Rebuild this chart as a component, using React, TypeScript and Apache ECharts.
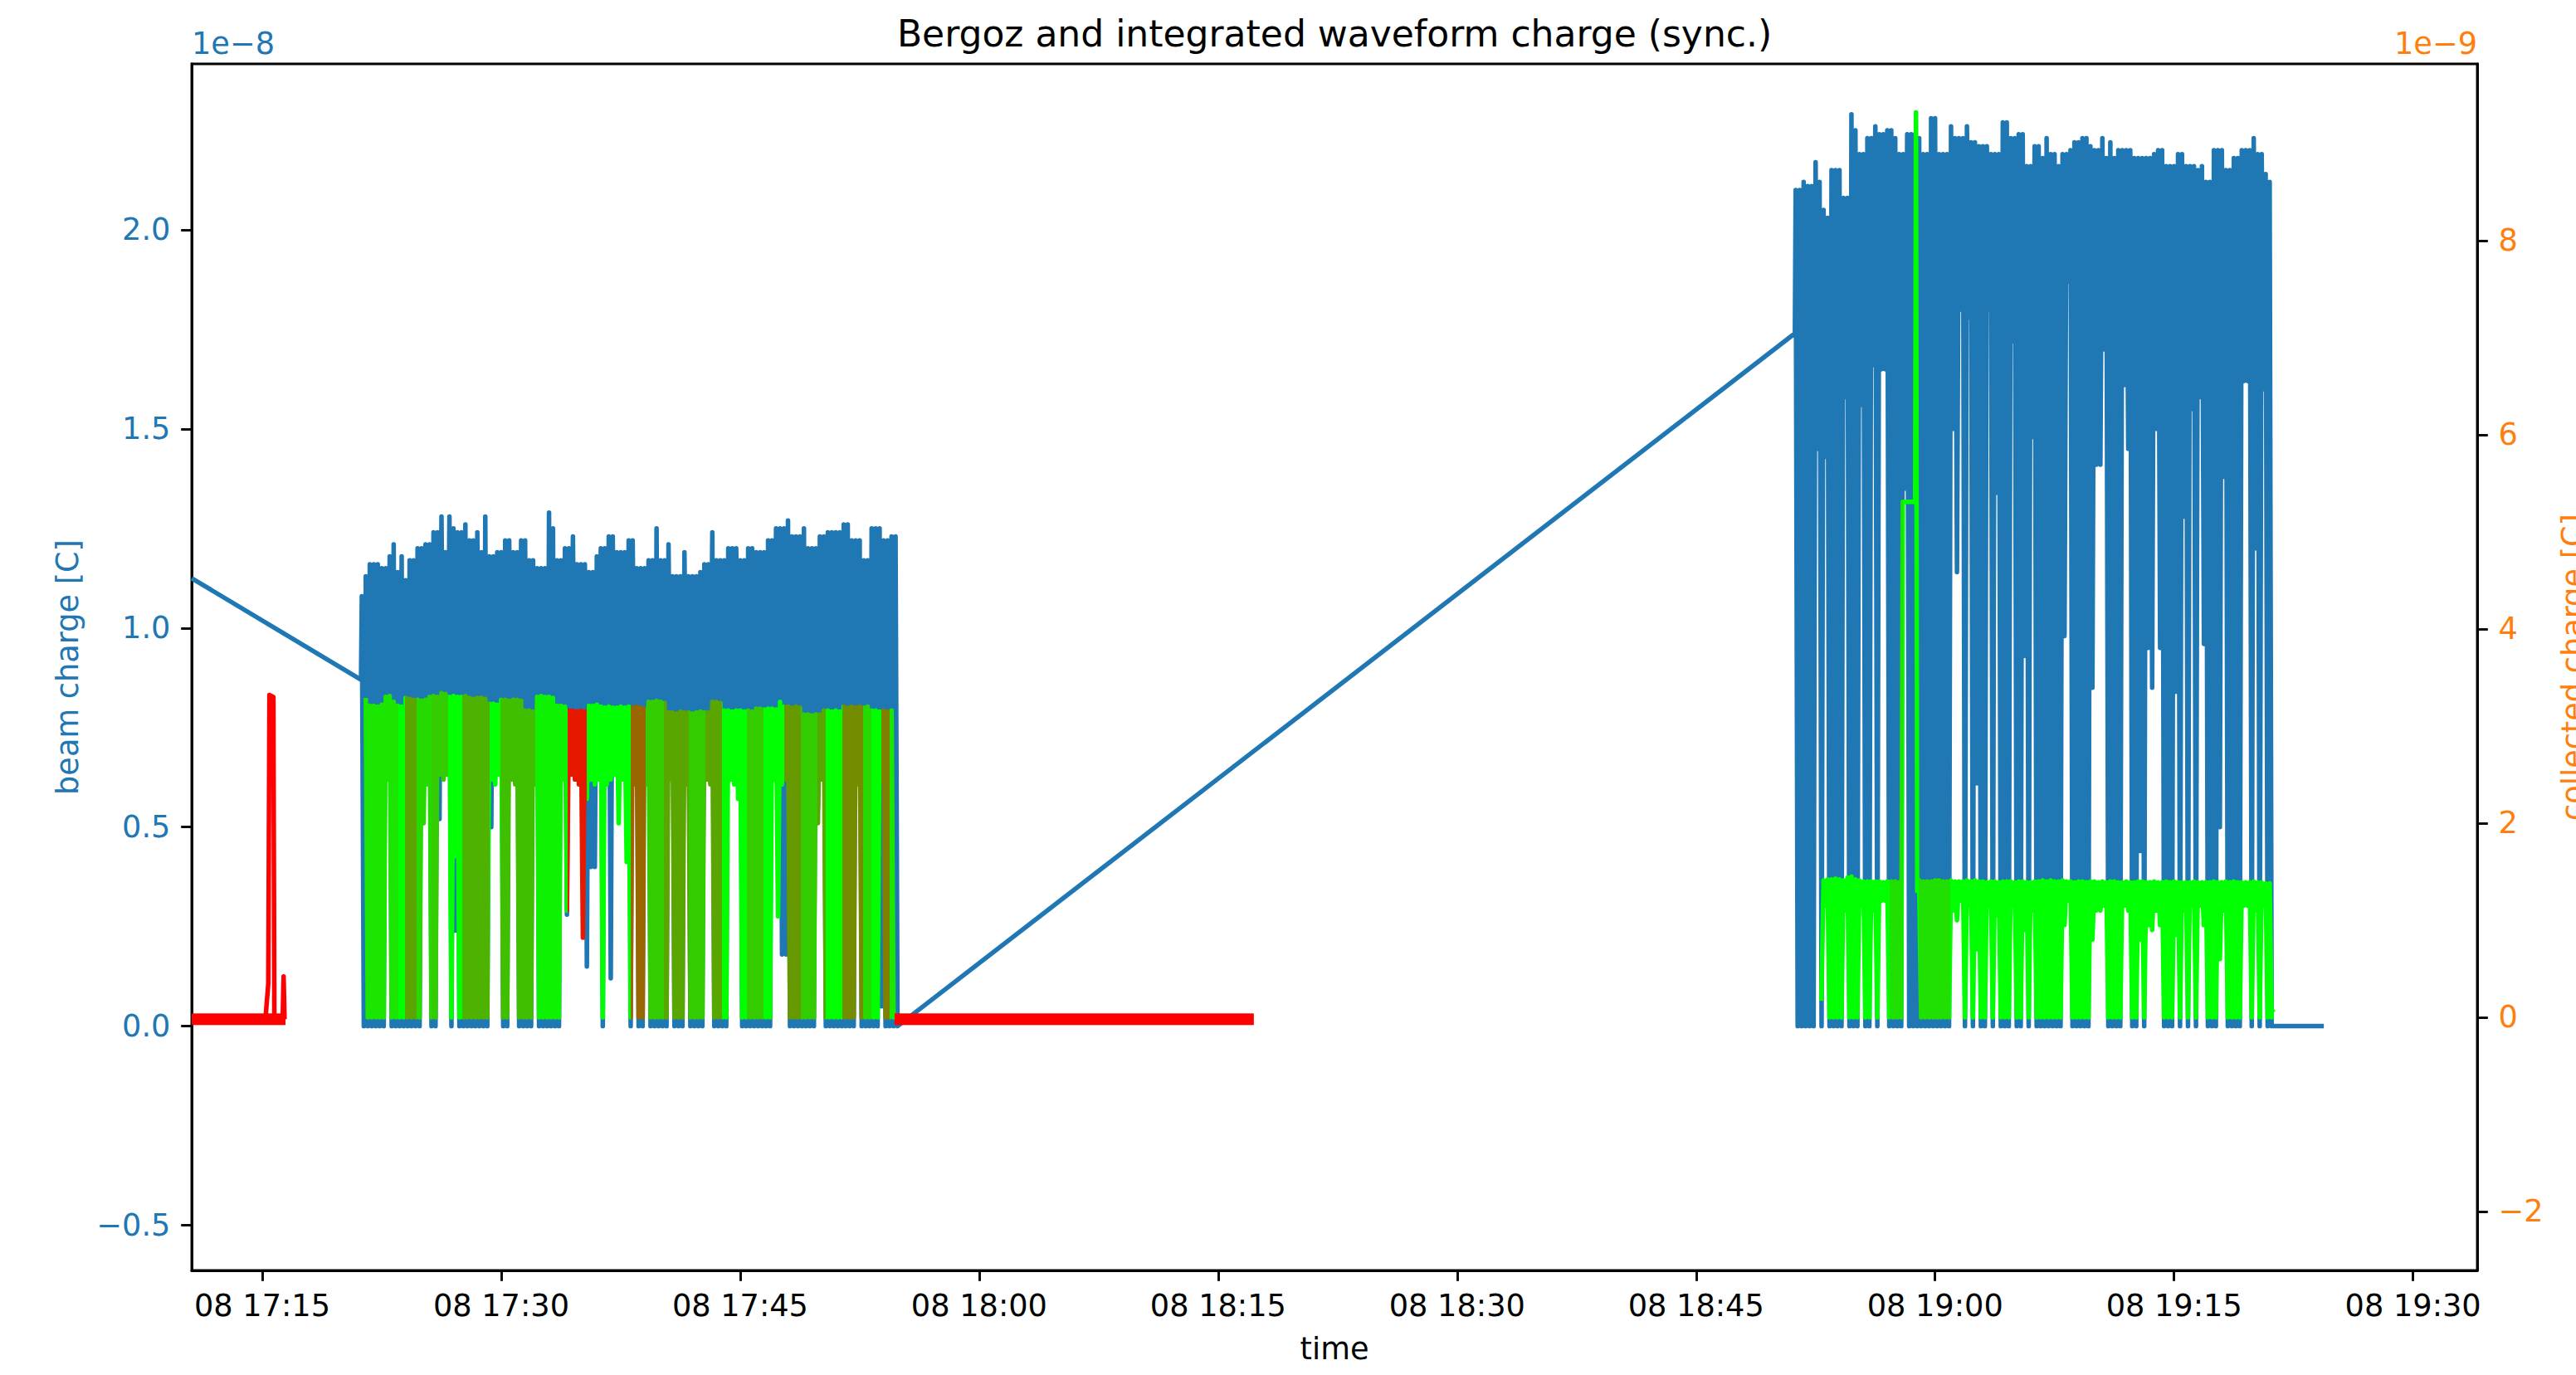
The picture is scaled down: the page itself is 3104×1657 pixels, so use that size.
import React, { useEffect, useRef } from "react";
import * as echarts from "echarts";

// ---------- axes (x in minutes after 08 17:00; left in 1e-8 C; right in 1e-9 C) ----------
const xMin = 10.572;
const xMax = 154.03;
const xTickMinutes = [15, 30, 45, 60, 75, 90, 105, 120, 135, 150];
const leftMin = -0.6135;
const leftMax = 2.4167;
const leftTicks = [-0.5, 0, 0.5, 1.0, 1.5, 2.0];
const rightMin = -2.607;
const rightMax = 9.82;
const rightTicks = [-2, 0, 2, 4, 6, 8];

// ---------- beam charge (Bergoz) ----------
const beamLeadT = [10.572, 21.2];
const beamLeadV = [1.125, 0.87];

const burst1Start = 21.25;
const burst2Start = 111.25;
const stepMin = 0.25;

const beam1Hi = [
  1.08, 1.13, 1.16, 1.16, 1.16, 1.15, 1.15, 1.18, 1.21, 1.14,
  1.18, 1.12, 1.17, 1.17, 1.2, 1.2, 1.21, 1.21, 1.24, 1.24,
  1.28, 1.19, 1.28, 1.25, 1.24, 1.24, 1.26, 1.22, 1.22, 1.24,
  1.19, 1.28, 1.18, 1.18, 1.19, 1.19, 1.22, 1.22, 1.19, 1.19,
  1.22, 1.22, 1.17, 1.17, 1.15, 1.15, 1.15, 1.29, 1.25, 1.17,
  1.17, 1.2, 1.2, 1.23, 1.16, 1.16, 1.16, 1.14, 1.14, 1.18,
  1.2, 1.2, 1.23, 1.23, 1.19, 1.19, 1.19, 1.22, 1.22, 1.15,
  1.15, 1.15, 1.17, 1.17, 1.25, 1.17, 1.17, 1.21, 1.13, 1.13,
  1.13, 1.19, 1.13, 1.13, 1.13, 1.14, 1.16, 1.16, 1.24, 1.17,
  1.17, 1.17, 1.2, 1.2, 1.2, 1.17, 1.17, 1.2, 1.2, 1.19,
  1.19, 1.19, 1.22, 1.22, 1.25, 1.25, 1.25, 1.27, 1.23, 1.23,
  1.23, 1.25, 1.2, 1.2, 1.2, 1.23, 1.23, 1.24, 1.24, 1.24,
  1.24, 1.26, 1.26, 1.22, 1.22, 1.22, 1.17, 1.17, 1.25, 1.25,
  1.25, 1.22, 1.22, 1.23, 1.23,
];
const beam1Lo = [
  0, 0, 0, 0, 0, 0, 0.72, 0, 0, 0,
  0, 0, 0, 0, 0, 0.7, 0.74, 0, 0, 0.52,
  0.72, 0.7, 0, 0.24, 0, 0, 0, 0, 0, 0,
  0, 0, 0.5, 0.74, 0.7, 0, 0, 0.72, 0.7, 0,
  0, 0, 0, 0.72, 0, 0, 0, 0, 0, 0,
  0.72, 0.28, 0.7, 0.74, 0.72, 0.7, 0.15, 0.4, 0.4, 0.72,
  0, 0.7, 0.12, 0.74, 0.72, 0.7, 0.5, 0, 0.72, 0,
  0, 0.72, 0, 0, 0, 0, 0, 0.7, 0, 0,
  0, 0.72, 0, 0, 0, 0, 0.74, 0.7, 0, 0,
  0, 0, 0.72, 0.7, 0.72, 0, 0, 0, 0, 0,
  0, 0, 0, 0.72, 0.7, 0.18, 0.18, 0, 0, 0,
  0, 0, 0, 0, 0.55, 0.72, 0, 0, 0, 0,
  0, 0, 0, 0, 0.72, 0, 0, 0, 0, 0,
  0.05, 0, 0, 0, 0,
];

const beamGapT = [111.2];
const beamGapV = [1.74];

const beam2Hi = [
  2.1, 2.1, 2.12, 2.11, 2.11, 2.17, 2.12, 2.05, 2.03, 2.15,
  2.15, 2.15, 2.08, 2.08, 2.29, 2.25, 2.19, 2.19, 2.23, 2.23,
  2.26, 2.24, 2.24, 2.25, 2.25, 2.23, 2.19, 2.19, 2.24, 2.24,
  2.24, 2.23, 2.19, 2.19, 2.28, 2.28, 2.19, 2.19, 2.19, 2.26,
  2.23, 2.23, 2.23, 2.26, 2.22, 2.22, 2.21, 2.21, 2.21, 2.19,
  2.19, 2.19, 2.27, 2.27, 2.23, 2.23, 2.24, 2.24, 2.16, 2.16,
  2.21, 2.21, 2.18, 2.23, 2.19, 2.19, 2.16, 2.19, 2.19, 2.2,
  2.22, 2.22, 2.23, 2.23, 2.21, 2.2, 2.2, 2.23, 2.18, 2.22,
  2.18, 2.2, 2.2, 2.2, 2.2, 2.18, 2.18, 2.18, 2.18, 2.18,
  2.19, 2.2, 2.2, 2.16, 2.16, 2.16, 2.19, 2.19, 2.16, 2.16,
  2.16, 2.15, 2.16, 2.12, 2.12, 2.2, 2.2, 2.2, 2.15, 2.15,
  2.18, 2.18, 2.2, 2.2, 2.2, 2.23, 2.19, 2.19, 2.14, 2.12,
];
const beam2Lo = [
  0, 0, 0, 0, 0, 1.45, 0, 1.43, 0, 0,
  0, 0, 1.58, 0, 0, 0, 1.56, 0, 0, 1.66,
  0, 1.65, 1.65, 0, 0, 0, 0, 1.35, 0, 0,
  0, 0, 0, 0, 0, 0, 0, 0, 0, 1.5,
  1.14, 1.8, 0, 1.78, 0, 0.61, 0, 0, 1.8, 0,
  1.34, 0, 0, 0, 1.72, 0, 0, 0.93, 0, 1.48,
  0, 0, 0, 0, 0, 0, 0, 0.98, 1.87, 0,
  0, 0, 0, 0, 0.85, 1.41, 1.41, 1.7, 0, 0,
  0, 0, 1.61, 1.45, 0, 0, 0.44, 0, 0.95, 0.85,
  1.5, 0.95, 0, 0, 0, 0.84, 0, 1.28, 0, 1.55,
  0, 1.58, 0.96, 0, 0, 0, 0.5, 1.38, 0, 0,
  0, 0, 1.62, 1.62, 0, 1.2, 0, 1.6, 0, 0,
];
const beamTailT = [144.4];
const beamTailV = [0];

// ---------- collected charge (integrated waveform) ----------
const coll1Hi = [
  3.29, 3.29, 3.21, 3.21, 3.2, 3.22, 3.3, 3.31, 3.25, 3.21,
  3.2, 3.29, 3.28, 3.27, 3.27, 3.26, 3.27, 3.3, 3.31, 3.3,
  3.34, 3.33, 3.3, 3.31, 3.3, 3.3, 3.31, 3.29, 3.28, 3.29,
  3.29, 3.28, 3.23, 3.23, 3.22, 3.27, 3.27, 3.26, 3.27, 3.27,
  3.26, 3.16, 3.16, 3.15, 3.3, 3.31, 3.3, 3.3, 3.29, 3.21,
  3.21, 3.2, 3.16, 3.16, 3.15, 3.16, 3.15, 3.21, 3.21, 3.22,
  3.2, 3.19, 3.2, 3.19, 3.19, 3.2, 3.19, 3.2, 3.19, 3.2,
  3.19, 3.18, 3.25, 3.25, 3.26, 3.25, 3.24, 3.14, 3.14, 3.13,
  3.15, 3.14, 3.14, 3.13, 3.14, 3.15, 3.14, 3.14, 3.25, 3.25,
  3.24, 3.16, 3.16, 3.15, 3.16, 3.16, 3.15, 3.16, 3.15, 3.18,
  3.18, 3.17, 3.18, 3.18, 3.17, 3.25, 3.2, 3.2, 3.19, 3.2,
  3.19, 3.12, 3.12, 3.11, 3.12, 3.12, 3.16, 3.16, 3.15, 3.16,
  3.15, 3.2, 3.19, 3.2, 3.19, 3.2, 3.19, 3.2, 3.16, 3.16,
  3.15, 3.16, 3.15, 3.16, 3.1,
];
const coll1Lo = [
  0, 0, 0, 0, 0, 0, 2.45, 0, 0, 0,
  0, 0, 0, 0, 0, 2.0, 2.4, 0, 0, 2.5,
  2.45, 2.5, 0, 1.66, 0, 0, 0, 0, 0, 0,
  0, 0, 2.45, 2.4, 2.5, 0, 0, 2.45, 2.4, 0,
  0, 0, 0, 2.4, 0, 0, 0, 0, 0, 0,
  2.45, 1.1, 2.5, 2.45, 2.4, 0.82, 2.25, 2.45, 2.4, 2.45,
  0, 2.4, 2.45, 2.5, 2.0, 2.45, 1.6, 0, 2.4, 0,
  0, 2.4, 0, 0, 0, 0, 0, 2.45, 0, 0,
  0, 2.4, 0, 0, 0, 0, 2.45, 2.4, 0, 0,
  0, 0, 2.45, 2.4, 2.25, 0, 0, 0, 0, 0,
  0, 0, 0, 2.45, 1.04, 2.4, 2.45, 0, 0, 0,
  0, 0, 0, 0, 2.0, 2.45, 0, 0, 0, 0,
  0, 0, 0, 0, 2.4, 0, 0, 0, 0, 0,
  2.45, 0, 0, 0, 0,
];
const coll1EndT = [54.69];
const coll1EndV = [0];

const coll2HeadT = [112.86];
const coll2HeadV = [0.17];
const coll2Hi = [
  1.38, 1.38, 1.38, 1.38, 1.38, 1.38, 1.38, 1.41, 1.42, 1.42,
  1.43, 1.42, 1.41, 1.44, 1.45, 1.42, 1.41, 1.4, 1.4, 1.4,
  1.4, 1.4, 1.39, 1.4, 1.4, 1.4, 1.39, 1.4, 1.4, 1.4,
  1.4, 1.41, 1.4, 1.4, 1.4, 1.41, 1.41, 1.4, 1.4, 1.41,
  1.4, 1.4, 1.4, 1.41, 1.4, 1.41, 1.4, 1.4, 1.39, 1.4,
  1.4, 1.39, 1.4, 1.4, 1.4, 1.39, 1.4, 1.4, 1.39, 1.39,
  1.4, 1.4, 1.41, 1.4, 1.41, 1.4, 1.4, 1.41, 1.4, 1.4,
  1.39, 1.4, 1.4, 1.39, 1.4, 1.4, 1.39, 1.4, 1.39, 1.4,
  1.4, 1.39, 1.39, 1.4, 1.39, 1.39, 1.4, 1.4, 1.39, 1.39,
  1.4, 1.39, 1.39, 1.4, 1.39, 1.4, 1.39, 1.39, 1.39, 1.39,
  1.4, 1.39, 1.39, 1.39, 1.39, 1.4, 1.39, 1.39, 1.4, 1.39,
  1.4, 1.39, 1.39, 1.39, 1.39, 1.4, 1.39, 1.39, 1.38, 1.38,
];
const coll2Lo = [
  0, 0, 0, 0, 0, 0, 0, 1.15, 0, 0,
  0, 0, 1.1, 0, 0, 0, 1.15, 0, 0, 1.1,
  0, 1.2, 1.2, 0, 0, 0, 0, 1.2, 0, 0,
  0, 0, 0, 0, 0, 0, 0, 0, 0, 1.1,
  1.0, 1.2, 0, 1.15, 0, 0.7, 0, 0, 1.15, 0,
  1.05, 0, 0, 0, 1.15, 0, 0, 0.9, 0, 1.1,
  0, 0, 0, 0, 0, 0, 0, 0.95, 1.2, 0,
  0, 0, 0, 0, 0.8, 1.1, 1.1, 1.15, 0, 0,
  0, 0, 1.15, 1.1, 0, 0, 0.8, 0, 0.95, 0.9,
  1.1, 0.95, 0, 0, 0, 0.85, 0, 1.1, 0, 1.15,
  0, 1.15, 0.95, 0, 0, 0, 0.6, 1.1, 0, 0,
  0, 0, 1.15, 1.15, 0, 1.1, 0, 1.15, 0, 0,
];
const coll2StepT = [117.97, 118.75, 118.8, 118.88];
const coll2StepV = [5.31, 5.31, 9.32, 1.3];
const coll2TailT = [141.12, 141.25];
const coll2TailV = [0.08, 0.05];

// colour of the collected-charge trace: start time of each section and its level (0 = green, 1 = red)
const qualityT = [
  21.25, 23.54, 23.96, 24.69, 25.63, 26.67, 27.55, 29.27, 29.95, 32.14,
  34.17, 35.36, 38.13, 39.06, 40.21, 41.77, 42.81, 43.85, 45.42, 46.46,
  47.76, 48.8, 49.84, 50.36, 51.41, 52.71, 53.23, 53.85, 54.4, 55,
  117.14, 117.97, 118.96, 120.94,
];
const qualityLevel = [
  0.1, 0, 0.35, 0.15, 0.2, 0, 0.3, 0, 0.25, 0.05,
  0.9, 0, 0.6, 0.2, 0.35, 0.2, 0.35, 0, 0.2, 0,
  0.4, 0.2, 0.35, 0, 0.45, 0.15, 0, 0.5, 0.1, 0,
  0.12, 0, 0.12, 0,
];

// no-beam baseline (red) and its spikes
const red1T = [10.572, 16.46];
const red1V = [-0.02, -0.02];
const red2T = [54.69, 77.24];
const red2V = [-0.02, -0.02];
const redSpikeT = [15.2, 15.38, 15.45, 15.7, 15.76, 16.28, 16.34, 16.4];
const redSpikeV = [-0.02, 0.35, 3.32, 3.3, -0.02, -0.02, 0.42, -0.02];

// ---------- helpers ----------
const FONT = "'DejaVu Sans', 'Liberation Sans', sans-serif";
const BLUE = "#1f77b4";
const ORANGE = "#ff7f0e";
const minus = (s: string) => s.replace("-", "\u2212");

function pairs(ts: number[], vs: number[]) {
  return ts.map((t, i) => [t, vs[i]]);
}
function zigzag(t0: number, hi: number[], lo: number[], from: number, to: number) {
  const out: number[][] = [];
  for (let i = from; i <= to; i++) {
    const t = t0 + i * stepMin;
    out.push([t, hi[i]]);
    out.push([t + stepMin / 2, lo[i]]);
  }
  return out;
}
function qColor(q: number) {
  const r = Math.round(255 * q);
  const g = Math.round(255 * (1 - q));
  return `rgb(${r},${g},0)`;
}

const beamData = [
  ...pairs(beamLeadT, beamLeadV),
  ...zigzag(burst1Start, beam1Hi, beam1Lo, 0, beam1Hi.length - 1),
  ...pairs(beamGapT, beamGapV),
  ...zigzag(burst2Start, beam2Hi, beam2Lo, 0, beam2Hi.length - 1),
  ...pairs(beamTailT, beamTailV),
];

const collData: any[] = [
  ...zigzag(burst1Start, coll1Hi, coll1Lo, 1, 133),
  ...pairs(coll1EndT, coll1EndV),
  [90, null],
  ...pairs(coll2HeadT, coll2HeadV),
  ...zigzag(burst2Start, coll2Hi, coll2Lo, 7, 26),
  ...pairs(coll2StepT, coll2StepV),
  ...zigzag(burst2Start, coll2Hi, coll2Lo, 31, coll2Hi.length - 1),
  ...pairs(coll2TailT, coll2TailV),
];

const redBaseData: any[] = [...pairs(red1T, red1V), [30, null], ...pairs(red2T, red2V)];
const redSpikeData = pairs(redSpikeT, redSpikeV);

const pieces = qualityT.map((t, k) => ({
  gte: t,
  lt: k + 1 < qualityT.length ? qualityT[k + 1] : 1000,
  color: qColor(qualityLevel[k]),
}));

const fmtTime = (v: number) => {
  const h = 17 + Math.floor(v / 60);
  const m = Math.round(v - Math.floor(v / 60) * 60);
  return `08 ${h}:${String(m).padStart(2, "0")}`;
};

const GRID = { left: 231, top: 77, width: 2754, height: 1454 };
const LW = 5.5;

const option: any = {
  animation: false,
  textStyle: { fontFamily: FONT },
  grid: { ...GRID, show: true, borderColor: "#000", borderWidth: 2.9, backgroundColor: "transparent" },
  xAxis: {
    type: "value",
    min: xMin,
    max: xMax,
    axisLine: { show: true, onZero: false, lineStyle: { color: "#000", width: 2.9 } },
    axisTick: { show: true, length: 12.8, customValues: xTickMinutes, lineStyle: { color: "#000", width: 2.9 } },
    axisLabel: {
      customValues: xTickMinutes,
      formatter: (v: number) => fmtTime(v),
      color: "#000",
      fontSize: 36.7,
      fontFamily: FONT,
      margin: 24,
    },
    splitLine: { show: false },
  },
  yAxis: [
    {
      type: "value",
      position: "left",
      min: leftMin,
      max: leftMax,
      axisLine: { show: true, onZero: false, lineStyle: { color: "#000", width: 2.9 } },
      axisTick: { show: true, length: 12.8, customValues: leftTicks, lineStyle: { color: "#000", width: 2.9 } },
      axisLabel: {
        customValues: leftTicks,
        formatter: (v: number) => minus(v.toFixed(1)),
        color: BLUE,
        fontSize: 36.7,
        fontFamily: FONT,
        margin: 25.6,
      },
      splitLine: { show: false },
    },
    {
      type: "value",
      position: "right",
      min: rightMin,
      max: rightMax,
      axisLine: { show: true, onZero: false, lineStyle: { color: "#000", width: 2.9 } },
      axisTick: { show: true, length: 12.8, customValues: rightTicks, lineStyle: { color: "#000", width: 2.9 } },
      axisLabel: {
        customValues: rightTicks,
        formatter: (v: number) => minus(String(Math.round(v))),
        color: ORANGE,
        fontSize: 36.7,
        fontFamily: FONT,
        margin: 25.6,
      },
      splitLine: { show: false },
    },
  ],
  visualMap: [
    {
      type: "piecewise",
      show: false,
      dimension: 0,
      seriesIndex: 1,
      pieces,
      outOfRange: { color: "#00ff00" },
    },
  ],
  series: [
    {
      name: "beam charge",
      type: "line",
      yAxisIndex: 0,
      data: beamData,
      showSymbol: false,
      symbol: "none",
      silent: true,
      lineStyle: { color: BLUE, width: LW, join: "round" },
      itemStyle: { color: BLUE },
      z: 2,
    },
    {
      name: "collected charge",
      type: "line",
      yAxisIndex: 1,
      data: collData,
      showSymbol: false,
      symbol: "none",
      silent: true,
      connectNulls: false,
      lineStyle: { width: LW, join: "round" },
      z: 3,
    },
    {
      name: "collected charge (no beam)",
      type: "line",
      yAxisIndex: 1,
      data: redBaseData,
      showSymbol: false,
      symbol: "none",
      silent: true,
      connectNulls: false,
      lineStyle: { color: "#ff0000", width: 14 },
      itemStyle: { color: "#ff0000" },
      z: 4,
    },
    {
      name: "collected charge spikes",
      type: "line",
      yAxisIndex: 1,
      data: redSpikeData,
      showSymbol: false,
      symbol: "none",
      silent: true,
      lineStyle: { color: "#ff0000", width: LW, join: "round" },
      itemStyle: { color: "#ff0000" },
      z: 4,
    },
  ],
  graphic: [
    {
      type: "text",
      x: GRID.left + GRID.width / 2,
      y: 40,
      style: {
        text: "Bergoz and integrated waveform charge (sync.)",
        fill: "#000",
        fontSize: 44,
        fontFamily: FONT,
        textAlign: "center",
        textVerticalAlign: "middle",
        align: "center",
        verticalAlign: "middle",
      },
    },
    {
      type: "text",
      x: GRID.left,
      y: 52,
      style: {
        text: "1e\u22128",
        fill: BLUE,
        fontSize: 36.7,
        fontFamily: FONT,
        textAlign: "left",
        textVerticalAlign: "middle",
        align: "left",
        verticalAlign: "middle",
      },
    },
    {
      type: "text",
      x: GRID.left + GRID.width,
      y: 52,
      style: {
        text: "1e\u22129",
        fill: ORANGE,
        fontSize: 36.7,
        fontFamily: FONT,
        textAlign: "right",
        textVerticalAlign: "middle",
        align: "right",
        verticalAlign: "middle",
      },
    },
    {
      type: "text",
      x: 81,
      y: GRID.top + GRID.height / 2,
      rotation: Math.PI / 2,
      style: {
        text: "beam charge [C]",
        fill: BLUE,
        fontSize: 36.7,
        fontFamily: FONT,
        textAlign: "center",
        textVerticalAlign: "middle",
        align: "center",
        verticalAlign: "middle",
      },
    },
    {
      type: "text",
      x: 3100,
      y: GRID.top + GRID.height / 2,
      rotation: Math.PI / 2,
      style: {
        text: "collected charge [C]",
        fill: ORANGE,
        fontSize: 36.7,
        fontFamily: FONT,
        textAlign: "center",
        textVerticalAlign: "middle",
        align: "center",
        verticalAlign: "middle",
      },
    },
    {
      type: "text",
      x: GRID.left + GRID.width / 2,
      y: 1625,
      style: {
        text: "time",
        fill: "#000",
        fontSize: 36.7,
        fontFamily: FONT,
        textAlign: "center",
        textVerticalAlign: "middle",
        align: "center",
        verticalAlign: "middle",
      },
    },
  ],
};

export default function App() {
  const ref = useRef<HTMLDivElement>(null);
  useEffect(() => {
    const chart = echarts.init(ref.current as HTMLDivElement, null, { renderer: "svg" });
    chart.setOption(option);
    return () => chart.dispose();
  }, []);
  return (
    <div
      ref={ref}
      style={{ position: "absolute", left: 0, top: 0, width: 3104, height: 1657, background: "#fff" }}
    />
  );
}
